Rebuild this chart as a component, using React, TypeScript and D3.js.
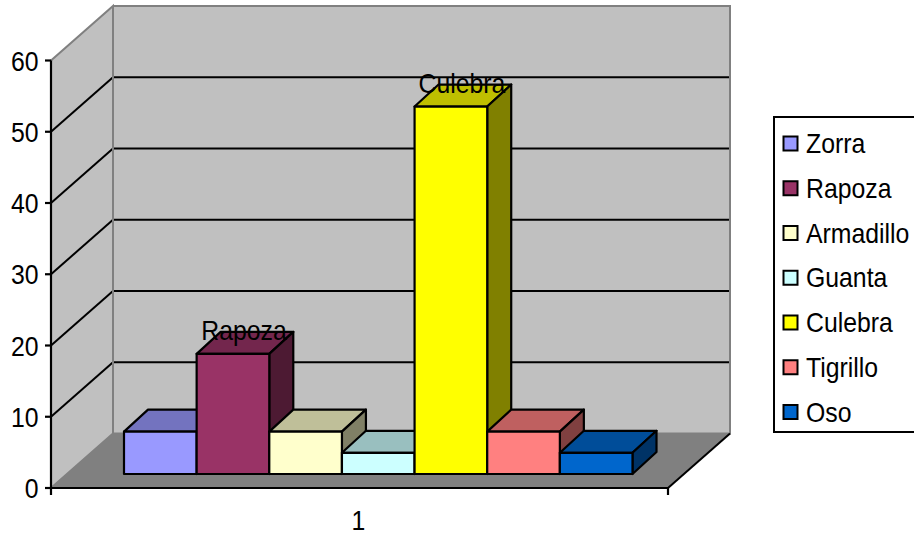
import React from "react";
import * as d3 from "d3";

const categories = ["Zorra", "Rapoza", "Armadillo", "Guanta", "Culebra", "Tigrillo", "Oso"];
const values = [6, 17, 6, 3, 52, 6, 3];
const fronts = ["#9999FF", "#993366", "#FFFFCC", "#CCFFFF", "#FFFF00", "#FF8080", "#0066CC"];
const labelled = ["Rapoza", "Culebra"];
const yTicks = [0, 10, 20, 30, 40, 50, 60];
const xLabels = ["1"];

const FONT = "'Liberation Sans', Arial, sans-serif";
const DX = 62;
const DY = -54.5;
const BDX = 24;
const BDY = -22;
const FX0 = 51;
const FX1 = 668;

const yWall = d3.scaleLinear().domain([0, 60]).range([488, 60.5]);
const yBar = d3.scaleLinear().domain([0, 60]).range([474, 50]);
const xBar = d3.scaleBand<string>().domain(categories).range([124, 632.5]);
const xAxis = d3.scaleBand<string>().domain(xLabels).range([FX0, FX1]);
const legendY = d3.scalePoint<string>().domain(categories).range([143.5, 412]);

const shade = (c: string, k: number) => {
  const r = d3.rgb(c);
  return d3.rgb(r.r * k, r.g * k, r.b * k).formatHex();
};
const poly = (pts: [number, number][]) => pts.map((p) => p.join(",")).join(" ");

function Txt({ x, y, anchor = "start", children }: { x: number; y: number; anchor?: string; children: React.ReactNode }) {
  return (
    <text transform={`translate(${x},${y}) scale(0.87,1)`} textAnchor={anchor} fontSize={28.5} fill="#000">
      {children}
    </text>
  );
}

export default function App() {
  const y0 = yWall(0);
  const yTop = yWall(60);
  return (
    <svg
      width={914}
      height={536}
      viewBox="0 0 914 536"
      style={{ position: "absolute", left: 0, top: 0, display: "block", background: "#fff" }}
      fontFamily={FONT}
    >
      {/* walls and floor */}
      <polygon points={poly([[FX0, y0], [FX0 + DX, y0 + DY], [FX0 + DX, yTop + DY], [FX0, yTop]])} fill="#C0C0C0" />
      <rect x={FX0 + DX} y={yTop + DY} width={FX1 - FX0} height={y0 - yTop} fill="#C0C0C0" />
      <polygon points={poly([[FX0, y0], [FX1, y0], [FX1 + DX, y0 + DY], [FX0 + DX, y0 + DY]])} fill="#808080" />
      {/* gridlines */}
      {yTicks.slice(1, -1).map((t) => (
        <g key={t} stroke="#000" strokeWidth={2} fill="none">
          <line x1={FX0} y1={yWall(t)} x2={FX0 + DX} y2={yWall(t) + DY} />
          <line x1={FX0 + DX} y1={yWall(t) + DY} x2={FX1 + DX} y2={yWall(t) + DY} />
        </g>
      ))}
      {/* wall edges */}
      <polyline
        points={poly([[FX0, y0], [FX0 + DX, y0 + DY], [FX0 + DX, yTop + DY], [FX0, yTop]])}
        fill="none"
        stroke="#808080"
        strokeWidth={2}
      />
      <polyline
        points={poly([[FX0 + DX, yTop + DY], [FX1 + DX, yTop + DY], [FX1 + DX, y0 + DY], [FX0 + DX, y0 + DY]])}
        fill="none"
        stroke="#808080"
        strokeWidth={2}
      />
      {/* axes */}
      <g stroke="#000" strokeWidth={2.2} fill="none">
        <line x1={FX0} y1={yTop} x2={FX0} y2={y0 + 7} />
        <line x1={FX0} y1={y0} x2={FX1} y2={y0} />
        <line x1={FX1} y1={y0} x2={FX1 + DX} y2={y0 + DY} strokeWidth={2} />
        <line x1={FX1} y1={y0} x2={FX1} y2={y0 + 7} />
        {yTicks.map((t) => (
          <line key={t} x1={FX0 - 6} y1={yWall(t)} x2={FX0} y2={yWall(t)} />
        ))}
      </g>
      {yTicks.map((t) => (
        <Txt key={t} x={38.5} y={yWall(t) + 10} anchor="end">
          {t}
        </Txt>
      ))}
      {xLabels.map((l) => (
        <Txt key={l} x={xAxis(l)! + xAxis.bandwidth() / 2 - 1} y={529.5} anchor="middle">
          {l}
        </Txt>
      ))}
      {/* bars */}
      {categories.map((c, i) => {
        const x0 = xBar(c)!;
        const x1 = x0 + xBar.bandwidth();
        const yb = yBar(0);
        const yt = yBar(values[i]);
        return (
          <g key={c} stroke="#000" strokeWidth={2.2} strokeLinejoin="round">
            <polygon points={poly([[x0, yt], [x1, yt], [x1 + BDX, yt + BDY], [x0 + BDX, yt + BDY]])} fill={shade(fronts[i], 0.75)} />
            <polygon points={poly([[x1, yt], [x1 + BDX, yt + BDY], [x1 + BDX, yb + BDY], [x1, yb]])} fill={shade(fronts[i], 0.5)} />
            <rect x={x0} y={yt} width={x1 - x0} height={yb - yt} fill={fronts[i]} />
          </g>
        );
      })}
      {/* data labels */}
      {categories.map((c, i) =>
        labelled.includes(c) ? (
          <Txt key={c} x={xBar(c)! + xBar.bandwidth() / 2 + 11} y={yBar(values[i]) - 13.5} anchor="middle">
            {c}
          </Txt>
        ) : null
      )}
      {/* legend */}
      <rect x={774} y={117} width={150} height={315} fill="#fff" stroke="#000" strokeWidth={2} />
      {categories.map((c, i) => (
        <g key={c}>
          <rect x={783.5} y={legendY(c)! - 7} width={14} height={14} fill={fronts[i]} stroke="#000" strokeWidth={2} />
          <Txt x={806} y={legendY(c)! + 9.5}>
            {c}
          </Txt>
        </g>
      ))}
    </svg>
  );
}
